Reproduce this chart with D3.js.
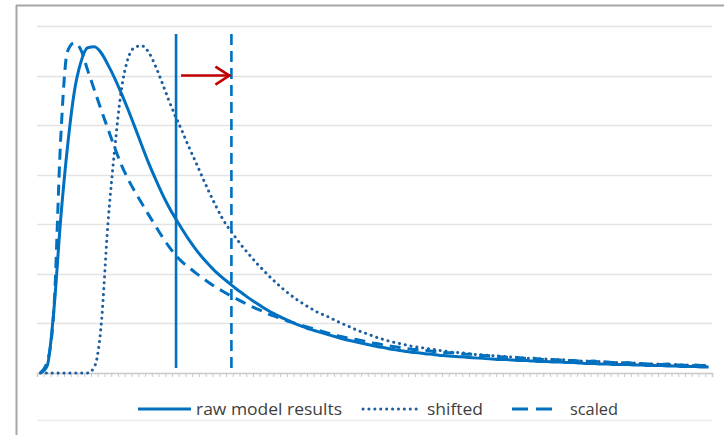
<!DOCTYPE html>
<html>
<head>
<meta charset="utf-8">
<script src="https://cdn.jsdelivr.net/npm/d3@7/dist/d3.min.js"></script>
<style>
  html, body { margin: 0; padding: 0; background: #fff; }
  svg { display: block; }
</style>
</head>
<body>
<svg id="chart" width="724" height="435"></svg>
<script>
// ---------------- data ----------------
const categories = d3.range(1, 101);
const seriesNames = ["raw model results", "shifted", "scaled"];
const raw = [0.00,0.14,1.27,3.09,4.54,5.65,6.27,6.56,6.58,6.46,
  6.22,5.95,5.64,5.31,4.96,4.60,4.25,3.93,3.63,3.36,
  3.12,2.90,2.69,2.50,2.33,2.18,2.04,1.92,1.81,1.70,
  1.60,1.50,1.41,1.32,1.24,1.17,1.10,1.04,0.98,0.93,
  0.88,0.84,0.80,0.76,0.72,0.68,0.65,0.62,0.59,0.56,
  0.53,0.51,0.48,0.46,0.44,0.42,0.41,0.39,0.38,0.36,
  0.35,0.34,0.33,0.32,0.31,0.30,0.29,0.28,0.27,0.27,
  0.26,0.25,0.25,0.24,0.23,0.23,0.22,0.22,0.21,0.21,
  0.20,0.19,0.19,0.18,0.18,0.17,0.17,0.17,0.16,0.16,
  0.15,0.15,0.15,0.14,0.14,0.13,0.13,0.13,0.12,0.12];
const shifted = [0,0,0,0,0,0,0,0,0.12,0.95,
  2.99,4.50,5.71,6.35,6.57,6.60,6.48,6.21,5.87,5.51,
  5.18,4.88,4.56,4.26,3.95,3.65,3.37,3.11,2.90,2.72,
  2.54,2.38,2.22,2.08,1.94,1.81,1.69,1.58,1.48,1.39,
  1.31,1.23,1.17,1.11,1.04,0.98,0.92,0.86,0.81,0.76,
  0.71,0.67,0.63,0.60,0.57,0.54,0.52,0.50,0.48,0.46,
  0.44,0.42,0.41,0.40,0.38,0.37,0.36,0.35,0.34,0.33,
  0.32,0.31,0.30,0.30,0.29,0.28,0.27,0.27,0.26,0.25,
  0.24,0.24,0.23,0.23,0.22,0.21,0.21,0.20,0.20,0.19,
  0.18,0.18,0.18,0.17,0.17,0.16,0.16,0.15,0.15,0.14];
const scaled = [0.00,0.22,1.27,4.70,6.48,6.66,6.52,6.11,5.71,5.31,
  4.93,4.55,4.20,3.91,3.66,3.43,3.20,2.98,2.76,2.56,
  2.38,2.24,2.13,2.02,1.92,1.82,1.73,1.65,1.57,1.50,
  1.43,1.36,1.30,1.24,1.18,1.13,1.08,1.03,0.99,0.95,
  0.91,0.87,0.83,0.79,0.75,0.72,0.69,0.67,0.64,0.61,
  0.59,0.56,0.54,0.52,0.50,0.48,0.47,0.46,0.44,0.43,
  0.41,0.41,0.39,0.38,0.38,0.36,0.35,0.35,0.33,0.32,
  0.32,0.31,0.29,0.30,0.28,0.27,0.27,0.26,0.25,0.25,
  0.24,0.23,0.24,0.22,0.22,0.21,0.20,0.21,0.19,0.19,
  0.18,0.18,0.17,0.18,0.16,0.16,0.15,0.16,0.15,0.15];
const gridValues = [1, 2, 3, 4, 5, 6, 7];
// vertical marker lines (category position) and their value span
const markerRaw = 20.1;
const markerScaled = 28.3;
const markerSpan = [0.1, 6.84];
const arrowValue = 6;

// ---------------- layout ----------------
const svg = d3.select("#chart");
const mLeft = 37, mRight = 712, mTop = 26, mBottom = 373;
const blue = "#0070c0";
const dotBlue = "#1d5e9e";

const x = d3.scaleLinear().domain([-0.5, categories.length - 0.5]).range([mLeft, mRight]);
const y = d3.scaleLinear().domain([0, 7]).range([mBottom, mTop]);

// frame
svg.append("line").attr("x1", 16).attr("x2", 724).attr("y1", 5.5).attr("y2", 5.5)
  .attr("stroke", "#a6a6a6").attr("stroke-width", 2);
svg.append("line").attr("x1", 16.5).attr("x2", 16.5).attr("y1", 5).attr("y2", 435)
  .attr("stroke", "#a6a6a6").attr("stroke-width", 2);

// gridlines
svg.append("g").selectAll("line").data(gridValues).join("line")
  .attr("x1", mLeft).attr("x2", mRight)
  .attr("y1", d => Math.round(y(d)) + 0.5).attr("y2", d => Math.round(y(d)) + 0.5)
  .attr("stroke", "#e3e3e3").attr("stroke-width", 1.5);

// x axis with category tick marks between categories
const tickVals = d3.range(categories.length + 1).map(i => i - 0.5);
const xAxis = d3.axisBottom(x).tickValues(tickVals).tickSize(4).tickFormat("");
const axG = svg.append("g").attr("transform", `translate(0,${mBottom})`).call(xAxis);
axG.select(".domain").attr("stroke", "#c8c8c8").attr("stroke-width", 1.5);
axG.selectAll(".tick line").attr("stroke", "#c8c8c8").attr("stroke-width", 1);

// series lines
const line = d3.line().x((d, i) => x(i)).y(d => y(d)).curve(d3.curveMonotoneX);
svg.append("path").datum(raw).attr("d", line)
  .attr("fill", "none").attr("stroke", blue).attr("stroke-width", 3)
  .attr("stroke-linejoin", "round");
svg.append("path").datum(shifted).attr("d", line)
  .attr("fill", "none").attr("stroke", dotBlue).attr("stroke-width", 3)
  .attr("stroke-linecap", "round").attr("stroke-dasharray", "0.1 5.8");
svg.append("path").datum(scaled).attr("d", line)
  .attr("fill", "none").attr("stroke", blue).attr("stroke-width", 3)
  .attr("stroke-dasharray", "11 7");

// marker verticals
svg.append("line").attr("x1", x(markerRaw)).attr("x2", x(markerRaw))
  .attr("y1", y(markerSpan[1])).attr("y2", y(markerSpan[0]))
  .attr("stroke", blue).attr("stroke-width", 2.6);
svg.append("line").attr("x1", x(markerScaled)).attr("x2", x(markerScaled))
  .attr("y1", y(markerSpan[1])).attr("y2", y(markerSpan[0]))
  .attr("stroke", blue).attr("stroke-width", 2.6).attr("stroke-dasharray", "11 6");

// arrow
const ax0 = x(markerRaw) + 5, ax1 = x(markerScaled) - 2, ay = y(arrowValue);
svg.append("line").attr("x1", ax0).attr("x2", ax1).attr("y1", ay).attr("y2", ay)
  .attr("stroke", "#c00000").attr("stroke-width", 2.6);
svg.append("path")
  .attr("d", `M${ax1 - 14},${ay - 9} L${ax1},${ay} L${ax1 - 14},${ay + 9}`)
  .attr("fill", "none").attr("stroke", "#c00000").attr("stroke-width", 2.6)
  .attr("stroke-linejoin", "miter");

// legend
const lg = svg.append("g").attr("font-family", "'Liberation Sans Narrow', 'Open Sans', sans-serif")
  .attr("font-size", 16).attr("fill", "#404040");
const ly = 409;
const legendItems = [
  { name: seriesNames[0], x0: 138, x1: 191, tx: 196, tw: 146, stroke: blue, w: 3, dash: null, cap: "butt" },
  { name: seriesNames[1], x0: 363, x1: 420, tx: 427, tw: 56, stroke: dotBlue, w: 3, dash: "0.1 5.8", cap: "round" },
  { name: seriesNames[2], x0: 512, x1: 553, tx: 570, tw: 48, stroke: blue, w: 3, dash: "16 8", cap: "butt" }
];
legendItems.forEach(it => {
  lg.append("line").attr("x1", it.x0).attr("x2", it.x1).attr("y1", ly).attr("y2", ly)
    .attr("stroke", it.stroke).attr("stroke-width", it.w)
    .attr("stroke-linecap", it.cap).attr("stroke-dasharray", it.dash);
  lg.append("text").attr("x", it.tx).attr("y", ly + 6).text(it.name)
    .attr("textLength", it.tw).attr("lengthAdjust", "spacingAndGlyphs");
});
svg.append("line").attr("x1", mLeft).attr("x2", mRight).attr("y1", 420.5).attr("y2", 420.5)
  .attr("stroke", "#ececec").attr("stroke-width", 1.5);
</script>
</body>
</html>
